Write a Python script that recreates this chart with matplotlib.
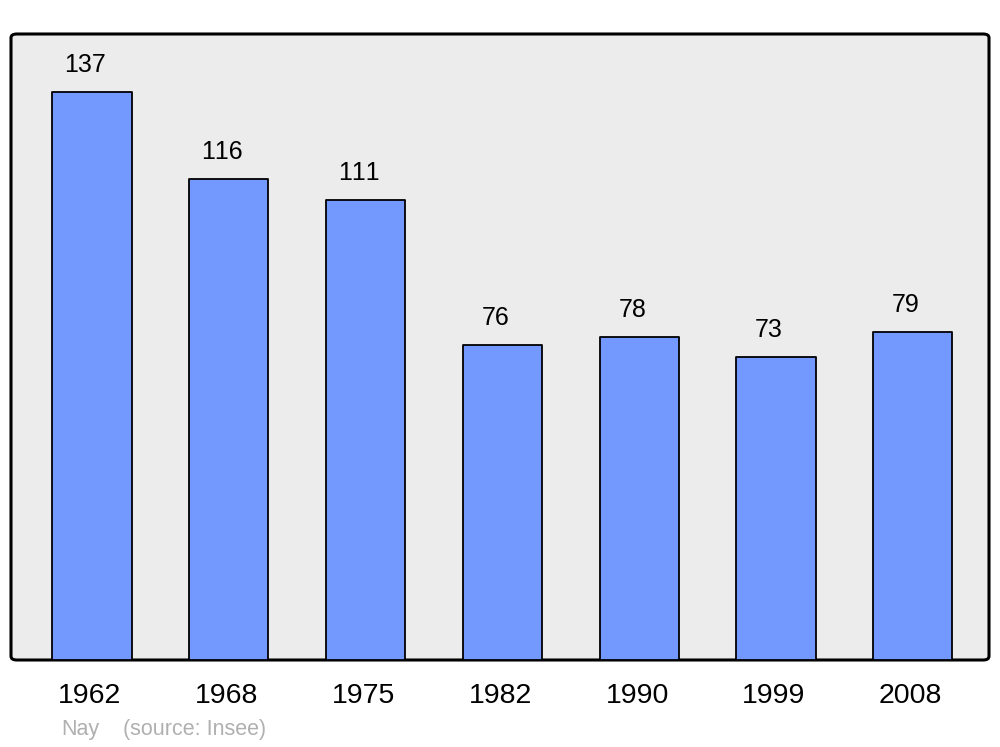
import matplotlib
matplotlib.use('Agg')
import matplotlib.pyplot as plt
import matplotlib.transforms as mtransforms
from matplotlib.patches import FancyBboxPatch

plt.rcParams['font.family'] = ['Liberation Sans', 'DejaVu Sans']
plt.rcParams['text.kerning_factor'] = 6

years = ['1962', '1968', '1975', '1982', '1990', '1999', '2008']
population = [137, 116, 111, 76, 78, 73, 79]

fig = plt.figure(figsize=(10, 7.47), dpi=100)
ax = fig.add_axes([0.011, 1 - 660 / 747, 0.978, (660 - 34) / 747])
ax.set_facecolor('none')

# rounded grey panel behind the bars
panel = FancyBboxPatch((0, 0), 1, 1, boxstyle='round,pad=0,rounding_size=0.006',
                       transform=ax.transAxes, facecolor='#ececec', edgecolor='black',
                       linewidth=2.2, zorder=0, clip_on=False)
ax.add_patch(panel)

x = list(range(len(years)))
bars = ax.bar(x, population, width=0.578, color='#7399ff', edgecolor='black',
              linewidth=1.3, zorder=2)
for b in bars:
    b.set_joinstyle('round')

for xi, v in zip(x, population):
    ax.annotate(str(v), (xi, v), xytext=(-5, 19.5), textcoords='offset points',
                ha='center', va='center', fontsize=18)

ax.set_xlim(-0.592, 6.557)
ax.set_ylim(0, 151)
for s in ax.spines.values():
    s.set_visible(False)
ax.set_yticks([])
ax.set_xticks(x)
ax.set_xticklabels(years, fontsize=20.5)
ax.tick_params(axis='x', length=0, pad=16.5)
shift = mtransforms.ScaledTranslation(-2 / 100, 0, fig.dpi_scale_trans)
for lbl in ax.get_xticklabels():
    lbl.set_transform(lbl.get_transform() + shift)

fig.text(0.061, 1 - 730 / 747, 'Nay', color='#b0b0b0', fontsize=15.5, va='center')
fig.text(0.123, 1 - 730 / 747, '(source: Insee)', color='#b0b0b0', fontsize=15.5, va='center')

fig.savefig('out.png', dpi=100)
